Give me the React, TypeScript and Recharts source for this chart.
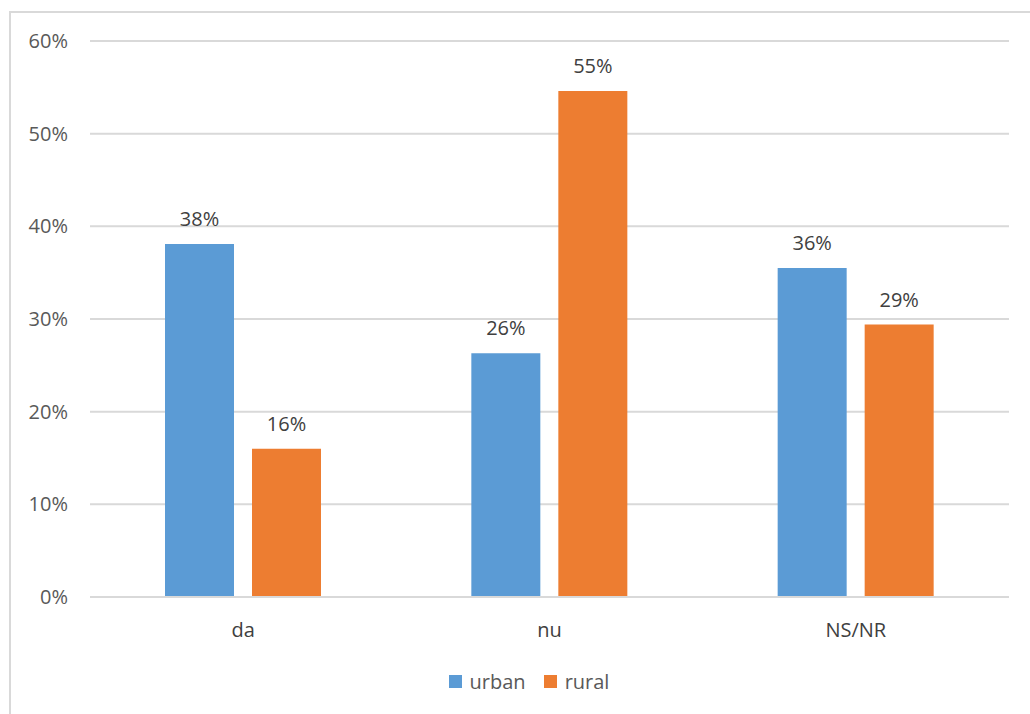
import { BarChart, Bar, XAxis, YAxis, CartesianGrid, Legend, LabelList } from 'recharts'

// categorii si valori (procente)
const categories = ['da', 'nu', 'NS/NR']
const urbanValues = [38.1, 26.3, 35.5]
const ruralValues = [16.0, 54.6, 29.4]
const yTicks = [0, 10, 20, 30, 40, 50, 60]

const seriesColors = { urban: '#5B9BD5', rural: '#ED7D31' }

const chartData = categories.map((name, i) => ({
  name,
  urban: urbanValues[i],
  rural: ruralValues[i],
}))

const font = '"Open Sans", "Noto Sans", sans-serif'

const LegendContent = () => (
  <div
    style={{
      height: 57,
      paddingTop: 4,
      paddingLeft: 49,
      boxSizing: 'border-box',
      display: 'flex',
      justifyContent: 'center',
      fontFamily: font,
      fontSize: 20,
      color: '#595959',
      lineHeight: '18px',
    }}
  >
    {(['urban', 'rural'] as const).map((k, i) => (
      <div
        key={k}
        style={{ display: 'flex', alignItems: 'center', position: 'relative', top: -6, marginLeft: i ? 18 : 0 }}
      >
        <span style={{ width: 13, height: 13, background: seriesColors[k], marginRight: 8 }} />
        <span>{k}</span>
      </div>
    ))}
  </div>
)

export default function App() {
  return (
    <div style={{ position: 'absolute', left: 0, top: 0, width: 1030, height: 714, background: '#fff', overflow: 'hidden' }}>
      <div
        style={{
          position: 'absolute',
          left: 9,
          top: 11,
          width: 1040,
          height: 720,
          border: '2px solid #d9d9d9',
        }}
      />
      <div style={{ position: 'absolute', left: 0, top: 0 }}>
        <BarChart
          width={1030}
          height={714}
          data={chartData}
          margin={{ top: 41, right: 21, bottom: 0, left: 0 }}
          barSize={69}
          barGap={18}
        >
          <CartesianGrid vertical={false} stroke="#d9d9d9" strokeWidth={2} />
          <XAxis
            dataKey="name"
            height={60}
            tickLine={false}
            axisLine={{ stroke: '#d9d9d9', strokeWidth: 2 }}
            tickMargin={20}
            tick={{ fill: '#404040', fontSize: 20, fontFamily: font }}
          />
          <YAxis
            width={90}
            domain={[0, 60]}
            ticks={yTicks}
            tickFormatter={(v: number) => `${v}%`}
            axisLine={false}
            tickLine={false}
            tickMargin={16}
            tick={{ fill: '#595959', fontSize: 20, fontFamily: font }}
          />
          <Legend verticalAlign="bottom" height={57} content={<LegendContent />} />
          <Bar dataKey="urban" fill={seriesColors.urban} isAnimationActive={false}>
            <LabelList
              dataKey="urban"
              position="top"
              offset={18}
              formatter={(v: any) => `${Math.round(v)}%`}
              style={{ fill: '#404040', fontSize: 20, fontFamily: font }}
            />
          </Bar>
          <Bar dataKey="rural" fill={seriesColors.rural} isAnimationActive={false}>
            <LabelList
              dataKey="rural"
              position="top"
              offset={18}
              formatter={(v: any) => `${Math.round(v)}%`}
              style={{ fill: '#404040', fontSize: 20, fontFamily: font }}
            />
          </Bar>
        </BarChart>
      </div>
    </div>
  )
}
